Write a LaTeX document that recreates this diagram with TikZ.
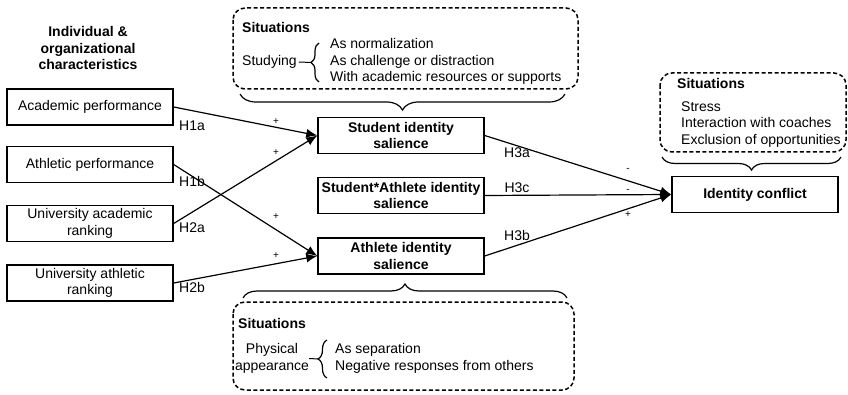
\documentclass[tikz,border=0pt]{standalone}
\usepackage{fontspec}
\setmainfont{Liberation Sans}
\usetikzlibrary{arrows.meta,decorations.pathreplacing}
\begin{document}
\begin{tikzpicture}[x=1pt,y=-1pt,
  every node/.style={font=\fontsize{14}{16.5}\selectfont, inner sep=0pt},
  box/.style={draw, line width=1.4pt, minimum width=166pt, minimum height=36pt, align=center},
  bbox/.style={box, font=\bfseries\fontsize{14}{16.5}\selectfont},
  head/.style={font=\bfseries\fontsize{14}{16.5}\selectfont, align=center},
  sit/.style={draw, line width=1.5pt, rounded corners=12pt, dash pattern=on 4pt off 2.5pt},
  conn/.style={line width=1.2pt, -{Latex[length=11pt,width=9pt]}},
  sgn/.style={font=\fontsize{10}{11}\selectfont},
  brc/.style={decorate, line width=1.2pt, decoration={brace, amplitude=#1}},
  brcm/.style={decorate, line width=1.2pt, decoration={brace, mirror, amplitude=#1}},
  lst/.style={align=left, anchor=west},
]
\useasboundingbox (0,0) rectangle (848,395);

% heading
\node[head] (hd) at (88,48) {Individual \&\\organizational\\characteristics};

% left boxes
\node[box] (ap)  at (90,107)   {Academic performance};
\node[box] (athp) at (90,164.5) {Athletic performance};
\node[box] (uar) at (90,223.5) {University academic\\ranking};
\node[box] (uath) at (90,283)  {University athletic\\ranking};

% middle boxes
\node[bbox] (sis)  at (401,135.5) {Student identity\\salience};
\node[bbox] (sais) at (401,195.5) {Student*Athlete identity\\salience};
\node[bbox] (ais)  at (401,256)   {Athlete identity\\salience};

% identity conflict
\node[bbox] (ic) at (755,194.5) {Identity conflict};

% connectors
\draw[conn] (ap.east) -- (sis.west);
\draw[conn] (uar.east) -- (sis.west);
\draw[conn] (athp.east) -- (ais.west);
\draw[conn] (uath.east) -- (ais.west);
\draw[conn] (sis.east) -- (ic.west);
\draw[conn] (sais.east) -- (ic.west);
\draw[conn] (ais.east) -- (ic.west);

% hypothesis labels
\node (h1a) at (192,126) {H1a};
\node (h1b) at (192,181) {H1b};
\node (h2a) at (192,228) {H2a};
\node (h2b) at (192,287) {H2b};
\node (h3a) at (517,153) {H3a};
\node (h3c) at (517,188) {H3c};
\node (h3b) at (517,235) {H3b};

% signs
\node[sgn] (s1) at (276,122) {+};
\node[sgn] (s2) at (276,153) {+};
\node[sgn] (s3) at (276,217) {+};
\node[sgn] (s4) at (276,256) {+};
\node[sgn] (s5) at (628,170) {-};
\node[sgn] (s6) at (628,191) {-};
\node[sgn] (s7) at (628,215) {+};

% top situations box
\draw[sit] (233,8) rectangle (578,89);
\node[anchor=west, font=\bfseries\fontsize{14}{16.5}\selectfont] (t1) at (242,27) {Situations};
\node[anchor=west] (stud) at (242,62) {Studying};
\draw[brc=8] (319,82) -- (319,43);
\coordinate (tb) at (311,62.5);
\draw[line width=1pt] (stud.east) ++(2,0) -- (tb);
\node[lst] (tl) at (330,61.5) {As normalization\\As challenge or distraction\\With academic resources or supports};
\draw[brcm=16] (240,94) -- (565,94);

% right situations box
\draw[sit] (660,73) rectangle (846,152);
\node[anchor=west, font=\bfseries\fontsize{14}{16.5}\selectfont] (r1) at (677,83) {Situations};
\node[lst] (rl) at (681,124.5) {Stress\\Interaction with coaches\\Exclusion of opportunities};
\draw[brcm=13] (662,157) -- (841,157);

% bottom situations box
\draw[brc=14] (243,298) -- (567,298);
\draw[sit] (233,302) rectangle (574,390);
\node[anchor=west, font=\bfseries\fontsize{14}{16.5}\selectfont] (b1) at (238,323) {Situations};
\node[align=center] (phys) at (272,358.5) {Physical\\appearance};
\draw[brc=9] (327,378) -- (327,340);
\coordinate (bb) at (318,359);
\draw[line width=1pt] (phys.east) -- (bb);
\node[lst] (bl) at (335,358.5) {As separation\\Negative responses from others};
\end{tikzpicture}
\end{document}
